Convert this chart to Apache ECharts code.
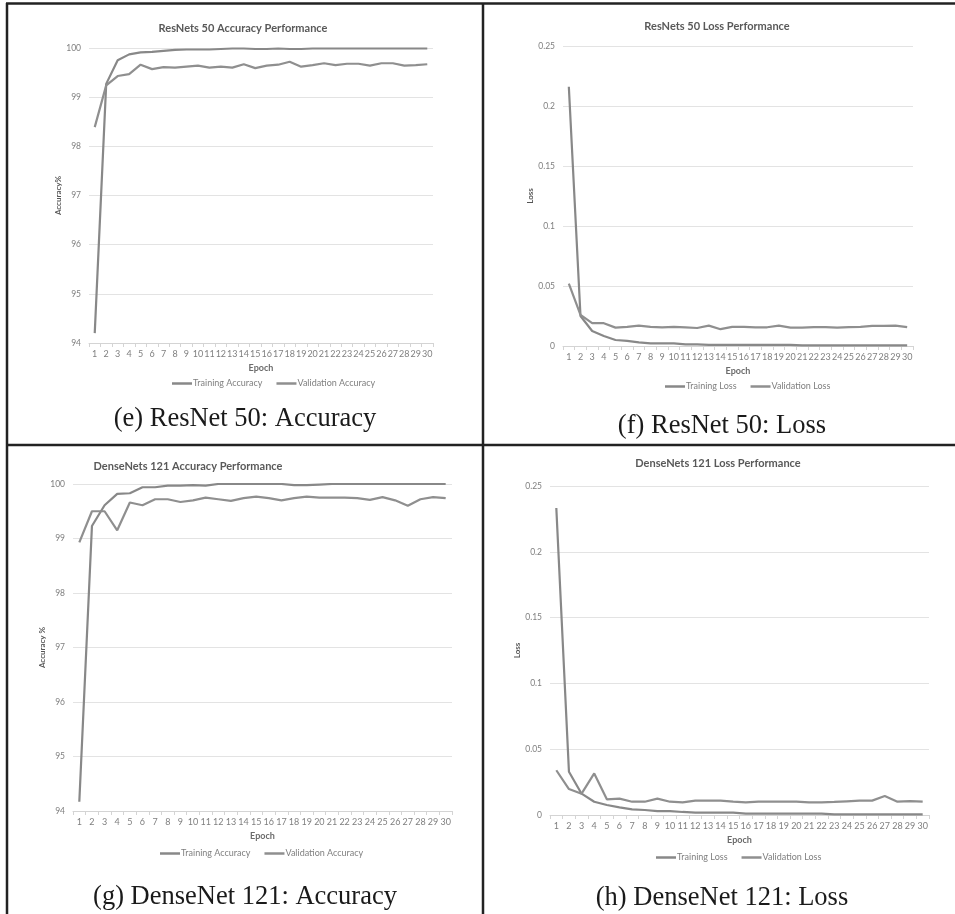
<!DOCTYPE html>
<html>
<head>
<meta charset="utf-8">
<script src="https://cdn.jsdelivr.net/npm/echarts@6/dist/echarts.min.js"></script>
<style>
html,body{margin:0;padding:0;background:#fff;}
#chart{width:955px;height:914px;}
</style>
</head>
<body>
<div id="chart"></div>
<script>
const epochs = ['1','2','3','4','5','6','7','8','9','10','11','12','13','14','15','16','17','18','19','20','21','22','23','24','25','26','27','28','29','30'];

const resAccTrain = [94.2,99.27,99.75,99.87,99.91,99.92,99.94,99.96,99.97,99.97,99.97,99.98,99.99,99.99,99.98,99.98,99.99,99.98,99.98,99.99,99.99,99.99,99.99,99.99,99.99,99.99,99.99,99.99,99.99,99.99];
const resAccVal = [98.39,99.24,99.43,99.47,99.66,99.57,99.61,99.60,99.62,99.64,99.60,99.62,99.60,99.67,99.59,99.64,99.66,99.72,99.62,99.65,99.69,99.65,99.68,99.68,99.64,99.69,99.69,99.64,99.65,99.67];

const resLossTrain = [0.216,0.025,0.0125,0.0083,0.005,0.0042,0.003,0.0022,0.0022,0.0022,0.0014,0.0014,0.001,0.001,0.001,0.001,0.001,0.001,0.001,0.001,0.0005,0.0005,0.0005,0.0005,0.0005,0.0005,0.0005,0.0005,0.0005,0.0005];
const resLossVal = [0.052,0.026,0.019,0.019,0.0153,0.016,0.017,0.016,0.0156,0.016,0.0156,0.015,0.017,0.014,0.016,0.016,0.0156,0.0156,0.017,0.0153,0.0153,0.0158,0.0158,0.0153,0.0158,0.016,0.0167,0.0167,0.017,0.0158];

const denAccTrain = [94.17,99.23,99.61,99.82,99.83,99.94,99.94,99.97,99.97,99.98,99.97,100,100,100,100,100,100,99.98,99.98,99.99,100,100,100,100,100,100,100,100,100,100];
const denAccVal = [98.93,99.50,99.50,99.15,99.66,99.61,99.72,99.72,99.67,99.70,99.75,99.72,99.69,99.74,99.77,99.74,99.70,99.74,99.77,99.75,99.75,99.75,99.74,99.71,99.76,99.70,99.60,99.72,99.76,99.74];

const denLossTrain = [0.2333,0.0329,0.0162,0.0101,0.0076,0.0058,0.0043,0.0038,0.003,0.003,0.0023,0.0018,0.0018,0.0018,0.0018,0.001,0.001,0.001,0.001,0.001,0.001,0.001,0.0005,0.0005,0.0005,0.0005,0.0005,0.0005,0.0005,0.0005];
const denLossVal = [0.034,0.0197,0.0162,0.0316,0.0119,0.0124,0.0101,0.0101,0.0124,0.0101,0.0096,0.0109,0.0109,0.0109,0.0101,0.0096,0.0101,0.0101,0.0101,0.0101,0.0096,0.0096,0.0099,0.0104,0.0109,0.0109,0.0144,0.0101,0.0106,0.0101];

const accTicks = [94,95,96,97,98,99,100];
const lossTicks = ['0','0.05','0.1','0.15','0.2','0.25'];

const chartTitles = ['ResNets 50 Accuracy Performance','ResNets 50 Loss Performance','DenseNets 121 Accuracy Performance','DenseNets 121 Loss Performance'];
const yNames = ['Accuracy%','Loss','Accuracy %','Loss'];
const captions = ['(e) ResNet 50: Accuracy','(f) ResNet 50: Loss','(g) DenseNet 121: Accuracy','(h) DenseNet 121: Loss'];
const accNames = ['Training Accuracy','Validation Accuracy'];
const lossNames = ['Training Loss','Validation Loss'];

const FONT = 'Lato, "Liberation Sans", sans-serif';
const LABEL = '#7f7f7f';
const LINE1 = '#888888';
const LINE2 = '#8f8f8f';

const grids = [
  {left:89, top:48, width:344, height:295},
  {left:563, top:46, width:350, height:300},
  {left:73, top:484, width:379, height:327},
  {left:550, top:486, width:379, height:329}
];
const titlePos = [[243,23],[717,21],[188,461],[718,458]];
const legendPos = [[167,374],[660,377],[155,844],[651,848]];
const captionPos = [[245,419],[722,426],[245,897],[722,898]];
const yNameGap = [22,24,26,28];

function xAxis(i){
  return {
    type:'category', gridIndex:i, data:epochs, boundaryGap:true,
    name:'Epoch', nameLocation:'middle', nameGap:21,
    nameTextStyle:{fontFamily:FONT, fontSize:9, color:'#6b6b6b', fontWeight:'bold'},
    axisLine:{lineStyle:{color:'#d4d4d4', width:1}},
    axisTick:{show:true, alignWithLabel:false, length:4, lineStyle:{color:'#d4d4d4'}},
    axisLabel:{interval:0, fontFamily:FONT, fontSize:9, color:LABEL, margin:7, hideOverlap:false},
    splitLine:{show:false}
  };
}
function yAxis(i, isAcc){
  const base = {
    type:'value', gridIndex:i,
    name:yNames[i], nameLocation:'middle', nameRotate:90, nameGap:yNameGap[i],
    nameTextStyle:{fontFamily:FONT, fontSize:8, color:'#555', fontWeight:'bold'},
    axisLine:{show:false}, axisTick:{show:false},
    axisLabel:{fontFamily:FONT, fontSize:8.5, color:LABEL, margin:8},
    splitLine:{lineStyle:{color:'#e3e3e3', width:1}}
  };
  if(isAcc){
    base.min = accTicks[0]; base.max = accTicks[accTicks.length-1]; base.interval = 1;
  } else {
    base.min = 0; base.max = parseFloat(lossTicks[lossTicks.length-1]); base.interval = 0.05;
    base.axisLabel.formatter = function(v){ return String(parseFloat(v.toFixed(2))); };
  }
  return base;
}
function series(name, data, i, color){
  return {type:'line', name:name, data:data, xAxisIndex:i, yAxisIndex:i,
    symbol:'none', smooth:false, lineStyle:{color:color, width:2.2}, itemStyle:{color:color}};
}

const option = {
  animation:false,
  backgroundColor:'#ffffff',
  title: chartTitles.map((t,i)=>({
    text:t, left:titlePos[i][0], top:titlePos[i][1], textAlign:'center', padding:0,
    textStyle:{fontFamily:FONT, fontSize:11, fontWeight:'bold', color:'#595959'}
  })),
  grid: grids,
  xAxis: [0,1,2,3].map(i=>xAxis(i)),
  yAxis: [0,1,2,3].map(i=>yAxis(i, i%2===0)),
  legend: [0,1,2,3].map(i=>({
    data: i%2===0 ? accNames : lossNames,
    left:legendPos[i][0], top:legendPos[i][1],
    icon:'rect', itemWidth:20, itemHeight:2.5, itemGap:14,
    textStyle:{fontFamily:FONT, fontSize:9, color:LABEL, padding:[0,0,0,-4]},
    selectedMode:false
  })),
  series: [
    series(accNames[0], resAccTrain, 0, LINE1),
    series(accNames[1], resAccVal, 0, LINE2),
    series(lossNames[0], resLossTrain, 1, LINE1),
    series(lossNames[1], resLossVal, 1, LINE2),
    series(accNames[0], denAccTrain, 2, LINE1),
    series(accNames[1], denAccVal, 2, LINE2),
    series(lossNames[0], denLossTrain, 3, LINE1),
    series(lossNames[1], denLossVal, 3, LINE2)
  ],
  graphic: [
    {type:'line', shape:{x1:6, y1:3.5, x2:955, y2:3.5}, style:{stroke:'#222', lineWidth:2.5}},
    {type:'line', shape:{x1:7, y1:3, x2:7, y2:914}, style:{stroke:'#222', lineWidth:2.5}},
    {type:'line', shape:{x1:483, y1:3, x2:483, y2:914}, style:{stroke:'#222', lineWidth:2.5}},
    {type:'line', shape:{x1:7, y1:445, x2:955, y2:445}, style:{stroke:'#222', lineWidth:2.5}}
  ].concat(captions.map((c,i)=>({
    type:'text', x:captionPos[i][0], y:captionPos[i][1],
    style:{text:c, font:'26.5px "Liberation Serif", "DejaVu Serif", serif', fill:'#1a1a1a', textAlign:'center', textVerticalAlign:'middle'}
  })))
};

const chart = echarts.init(document.getElementById('chart'), null, {renderer:'canvas'});
chart.setOption(option);
</script>
</body>
</html>
